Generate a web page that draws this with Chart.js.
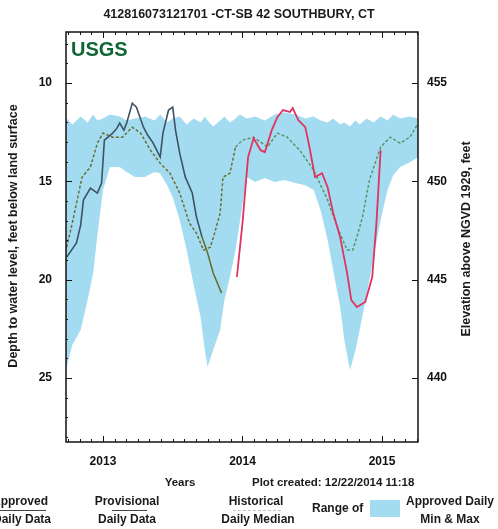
<!DOCTYPE html>
<html>
<head>
<meta charset="utf-8">
<script src="https://cdn.jsdelivr.net/npm/chart.js@4"></script>
<style>
  html, body { margin: 0; padding: 0; background: #fff; }
  #wrap { width: 498px; height: 529px; }
</style>
</head>
<body>
<div id="wrap"><canvas id="gwChart" width="498" height="529"></canvas></div>
<script>
// decimal years on x, depth to water (ft below land surface) on y
const approvedYears = [2012.74, 2012.81, 2012.84, 2012.86, 2012.91, 2012.96, 2012.99, 2013.01, 2013.07, 2013.10,
  2013.12, 2013.15, 2013.17, 2013.21, 2013.24, 2013.29, 2013.32, 2013.36, 2013.41, 2013.43,
  2013.47, 2013.50, 2013.52, 2013.55, 2013.59, 2013.64, 2013.67, 2013.71, 2013.75, 2013.79, 2013.85];
const approvedDepth = [18.85, 18.13, 17.22, 15.95, 15.34, 15.59, 15.08, 12.90, 12.54, 12.29,
  12.03, 12.39, 12.03, 11.02, 11.22, 12.24, 12.64, 13.05, 13.76, 12.54,
  11.37, 11.22, 12.39, 13.56, 14.78, 15.59, 16.81, 17.83, 18.64, 19.66, 20.68];

const provisionalYears = [2013.96, 2014.00, 2014.04, 2014.08, 2014.13, 2014.16, 2014.21, 2014.25, 2014.29, 2014.34,
  2014.36, 2014.40, 2014.45, 2014.48, 2014.52, 2014.57, 2014.61, 2014.65, 2014.70, 2014.75,
  2014.78, 2014.82, 2014.88, 2014.93, 2014.96, 2014.99];
const provisionalDepth = [19.86, 17.12, 13.76, 12.80, 13.41, 13.51, 12.39, 11.73, 11.37, 11.47,
  11.27, 11.88, 12.24, 13.25, 14.78, 14.58, 15.29, 16.61, 17.83, 19.66,
  21.03, 21.39, 21.13, 19.86, 17.12, 13.41];

const medianYears = [2012.73, 2012.74, 2012.78, 2012.85, 2012.91, 2012.96, 2013.00, 2013.07, 2013.14, 2013.21,
  2013.27, 2013.34, 2013.41, 2013.48, 2013.55, 2013.62, 2013.67, 2013.72, 2013.77, 2013.80,
  2013.84, 2013.86, 2013.91, 2013.95, 2014.00, 2014.08, 2014.18, 2014.25, 2014.32, 2014.41,
  2014.51, 2014.61, 2014.68, 2014.75, 2014.79, 2014.82, 2014.86, 2014.91, 2014.99, 2015.06,
  2015.13, 2015.20, 2015.26];
const medianDepth = [18.59, 18.34, 17.12, 14.78, 14.27, 13.05, 12.54, 12.75, 12.75, 12.24,
  12.54, 13.41, 14.07, 14.58, 15.59, 17.12, 17.63, 18.49, 18.34, 17.63,
  16.61, 14.78, 14.58, 13.25, 12.90, 12.75, 13.25, 12.54, 12.75, 13.41,
  14.42, 15.95, 17.32, 18.49, 18.49, 17.83, 16.81, 14.93, 13.25, 12.75,
  13.05, 12.75, 12.03];

const rangeYears = [2012.73, 2012.74, 2012.78, 2012.84, 2012.89, 2012.93, 2012.96, 2013.00, 2013.05, 2013.12,
  2013.17, 2013.23, 2013.30, 2013.37, 2013.41, 2013.46, 2013.50, 2013.55, 2013.60, 2013.65,
  2013.70, 2013.73, 2013.75, 2013.79, 2013.84, 2013.87, 2013.91, 2013.95, 2013.98, 2014.03,
  2014.09, 2014.16, 2014.23, 2014.30, 2014.38, 2014.45, 2014.51, 2014.56, 2014.61, 2014.65,
  2014.70, 2014.73, 2014.77, 2014.81, 2014.84, 2014.89, 2014.94, 2014.99, 2015.04, 2015.08,
  2015.13, 2015.20, 2015.26];
const rangeMinDepth = [11.9, 11.8, 12.1, 11.7, 12.0, 11.6, 11.9, 11.8, 11.6, 11.7,
  11.9, 11.8, 11.7, 11.9, 11.6, 12.0, 11.8, 11.7, 12.1, 11.8,
  12.0, 11.7, 11.9, 12.2, 11.9, 11.7, 12.0, 11.8, 11.6, 11.8,
  11.7, 11.9, 11.6, 11.5, 11.6, 11.8, 11.7, 11.9, 12.0, 11.8,
  12.1, 12.0, 12.2, 11.9, 12.1, 11.8, 12.0, 11.7, 11.9, 11.6,
  11.8, 11.7, 11.8];
const rangeMaxDepth = [24.60, 24.44, 23.32, 22.56, 21.03, 19.66, 17.73, 15.44, 14.27, 14.27,
  14.52, 14.78, 14.78, 14.52, 14.58, 15.19, 15.80, 16.96, 18.49, 20.27,
  21.90, 23.57, 24.44, 23.57, 22.56, 21.03, 19.86, 18.49, 17.12, 14.78,
  15.03, 14.83, 15.03, 14.93, 15.08, 15.19, 15.44, 16.46, 17.98, 19.51,
  21.39, 23.07, 24.59, 23.57, 22.56, 20.78, 18.85, 16.96, 15.44, 14.68,
  14.27, 14.02, 13.76];

const yearTicks = [2013, 2014, 2015];
const depthTicks = [10, 15, 20, 25];
const elevTicks = [440, 445, 450, 455];
const landSurface = 465; // elevation = landSurface - depth

const xMin = 2012.735, xMax = 2015.258;
const depthTop = 7.4, depthBottom = 28.25;

function pts(xs, ys) {
  return xs.map((x, i) => ({ x: x, y: ys[i] }));
}

const FONT = "'Liberation Sans', Arial, sans-serif";
const bandColor = '#a3dcf1';

// extra drawing: frame, inside tick marks, titles, footer legend
const usgsDecor = {
  id: 'usgsDecor',
  afterDraw(chart) {
    const ctx = chart.ctx;
    const a = chart.chartArea;
    const xs = chart.scales.x, yl = chart.scales.y, yr = chart.scales.yElev;
    ctx.save();
    ctx.strokeStyle = '#111';
    ctx.lineWidth = 1.5;
    ctx.strokeRect(a.left, a.top, a.right - a.left, a.bottom - a.top);

    ctx.lineWidth = 1;
    // monthly ticks top and bottom
    for (let k = Math.ceil(xMin * 12); k <= Math.floor(xMax * 12); k++) {
      const px = Math.round(xs.getPixelForValue(k / 12)) + 0.5;
      const len = (k % 12 === 0) ? 6 : 3;
      ctx.beginPath();
      ctx.moveTo(px, a.bottom); ctx.lineTo(px, a.bottom - len);
      ctx.moveTo(px, a.top); ctx.lineTo(px, a.top + len);
      ctx.stroke();
    }
    // depth ticks on left
    for (let d = Math.ceil(depthTop); d <= Math.floor(depthBottom); d++) {
      const py = Math.round(yl.getPixelForValue(d)) + 0.5;
      const len = (d % 5 === 0) ? 6 : 2;
      ctx.beginPath();
      ctx.moveTo(a.left, py); ctx.lineTo(a.left + len, py);
      ctx.stroke();
    }
    elevTicks.forEach(e => {
      const py = Math.round(yr.getPixelForValue(e)) + 0.5;
      ctx.beginPath();
      ctx.moveTo(a.right, py); ctx.lineTo(a.right - 6, py);
      ctx.stroke();
    });

    ctx.fillStyle = '#1a1a1a';
    ctx.textBaseline = 'middle';
    // title
    ctx.font = 'bold 12.5px ' + FONT;
    ctx.textAlign = 'center';
    ctx.fillText('412816073121701 -CT-SB 42 SOUTHBURY, CT', 239, 15);

    // USGS mark
    ctx.fillStyle = '#0d6634';
    ctx.font = 'bold 20px ' + FONT;
    ctx.textAlign = 'left';
    ctx.fillText('USGS', a.left + 5, 50);

    // axis titles
    ctx.fillStyle = '#1a1a1a';
    ctx.font = 'bold 12.5px ' + FONT;
    ctx.textAlign = 'center';
    ctx.save();
    ctx.translate(14, 236);
    ctx.rotate(-Math.PI / 2);
    ctx.fillText('Depth to water level, feet below land surface', 0, 0);
    ctx.restore();
    ctx.save();
    ctx.translate(467, 239);
    ctx.rotate(-Math.PI / 2);
    ctx.font = 'bold 12.5px ' + FONT;
    ctx.fillText('Elevation above NGVD 1929, feet', 0, 0);
    ctx.restore();

    // footer
    ctx.font = 'bold 11.5px ' + FONT;
    ctx.fillText('Years', 180, 483);
    ctx.textAlign = 'left';
    ctx.fillText('Plot created: 12/22/2014 11:18', 252, 483);

    ctx.font = 'bold 12px ' + FONT;
    ctx.textAlign = 'center';
    ctx.fillText('Approved', 20, 502);
    ctx.fillText('Daily Data', 22, 520);
    ctx.fillText('Provisional', 127, 502);
    ctx.fillText('Daily Data', 127, 520);
    ctx.fillText('Historical', 256, 502);
    ctx.fillText('Daily Median', 258, 520);
    ctx.fillText('Approved Daily', 450, 502);
    ctx.fillText('Min & Max', 450, 520);
    ctx.textAlign = 'left';
    ctx.fillText('Range of', 312, 509);

    ctx.strokeStyle = '#444';
    ctx.lineWidth = 1;
    ctx.beginPath(); ctx.moveTo(0, 510.5); ctx.lineTo(46, 510.5); ctx.stroke();
    ctx.beginPath(); ctx.moveTo(112, 510.5); ctx.lineTo(147, 510.5); ctx.stroke();
    ctx.strokeStyle = '#c4c4c4';
    ctx.setLineDash([3, 2]);
    ctx.beginPath(); ctx.moveTo(233, 510.5); ctx.lineTo(283, 510.5); ctx.stroke();
    ctx.setLineDash([]);
    ctx.fillStyle = bandColor;
    ctx.fillRect(370, 500, 30, 17);
    ctx.restore();
  }
};

const olive = '#6b6f33';
const green = '#5d9464';
const tickFont = { family: FONT, weight: 'bold', size: 12 };

new Chart(document.getElementById('gwChart'), {
  type: 'line',
  data: {
    datasets: [
      {
        label: 'Approved Daily Data',
        data: pts(approvedYears, approvedDepth),
        borderColor: '#3f5263',
        borderWidth: 1.6,
        pointRadius: 0,
        segment: {
          borderColor: c => c.p0.parsed.x > 2013.7 ? olive : '#3f5263'
        }
      },
      {
        label: 'Provisional Daily Data',
        data: pts(provisionalYears, provisionalDepth),
        borderColor: '#e0335f',
        borderWidth: 1.8,
        pointRadius: 0
      },
      {
        label: 'Historical Daily Median',
        data: pts(medianYears, medianDepth),
        borderColor: olive,
        borderWidth: 1.5,
        borderDash: [3, 2],
        pointRadius: 0,
        segment: {
          borderColor: c => c.p0.parsed.x >= 2013.93 ? green : olive
        }
      },
      {
        label: 'Range min',
        data: pts(rangeYears, rangeMinDepth),
        borderWidth: 0,
        borderColor: 'rgba(0,0,0,0)',
        pointRadius: 0,
        fill: false
      },
      {
        label: 'Range max',
        data: pts(rangeYears, rangeMaxDepth),
        borderWidth: 0,
        borderColor: 'rgba(0,0,0,0)',
        backgroundColor: bandColor,
        pointRadius: 0,
        fill: '-1'
      }
    ]
  },
  options: {
    responsive: false,
    animation: false,
    layout: { padding: { top: 32, left: 0, right: 0, bottom: 0 } },
    plugins: {
      legend: { display: false },
      tooltip: { enabled: false },
      title: { display: false }
    },
    scales: {
      x: {
        type: 'linear',
        min: xMin,
        max: xMax,
        grid: { display: false, drawTicks: false },
        border: { display: false },
        afterBuildTicks: s => { s.ticks = yearTicks.map(v => ({ value: v })); },
        afterFit: s => { s.height = 87; },
        ticks: {
          padding: 12,
          color: '#111',
          font: tickFont,
          callback: v => String(v)
        }
      },
      y: {
        type: 'linear',
        position: 'left',
        reverse: true,
        min: depthTop,
        max: depthBottom,
        grid: { display: false, drawTicks: false },
        border: { display: false },
        afterBuildTicks: s => { s.ticks = depthTicks.map(v => ({ value: v })); },
        afterFit: s => { s.width = 66; },
        ticks: {
          padding: 14,
          color: '#111',
          font: tickFont
        }
      },
      yElev: {
        type: 'linear',
        position: 'right',
        min: landSurface - depthBottom,
        max: landSurface - depthTop,
        grid: { display: false, drawTicks: false },
        border: { display: false },
        afterBuildTicks: s => { s.ticks = elevTicks.map(v => ({ value: v })); },
        afterFit: s => { s.width = 80; },
        ticks: {
          padding: 9,
          color: '#111',
          font: tickFont
        }
      }
    }
  },
  plugins: [usgsDecor]
});
</script>
</body>
</html>
